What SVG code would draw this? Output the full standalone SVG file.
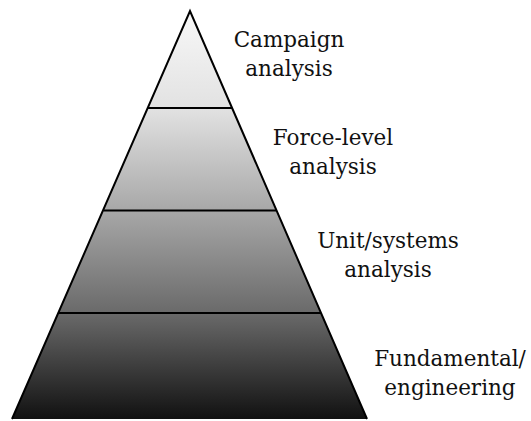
<svg xmlns="http://www.w3.org/2000/svg" width="531" height="421" viewBox="0 0 531 421">
<style>
.lbl{font-family:"DejaVu Serif",serif;font-size:21.5px;fill:#111;text-anchor:middle}
.edge{fill:none;stroke:#000;stroke-width:2}
</style>
<defs>
<linearGradient id="g" gradientUnits="userSpaceOnUse" x1="0" y1="11" x2="0" y2="419">
<stop offset="0" stop-color="#f8f8f8"/>
<stop offset="0.238" stop-color="#e2e2e2"/>
<stop offset="0.488" stop-color="#a8a8a8"/>
<stop offset="0.74" stop-color="#6a6a6a"/>
<stop offset="1" stop-color="#111111"/>
</linearGradient>
</defs>
<rect width="531" height="421" fill="#fff"/>
<g id="pyramid">
<polygon points="190,11 367,419 12,419" fill="url(#g)"/>
</g>
<g id="connectors">
<line class="edge" x1="147.5" y1="108" x2="232" y2="108"/>
<line class="edge" x1="103.5" y1="210.5" x2="276.5" y2="210.5"/>
<line class="edge" x1="58.5" y1="313" x2="321" y2="313"/>
<polyline class="edge" points="12,419 190,11 367,419"/>
</g>
<g id="campaign"><text class="lbl" x="289" y="47">Campaign</text><text class="lbl" x="289" y="76">analysis</text></g>
<g id="force"><text class="lbl" x="333" y="145">Force-level</text><text class="lbl" x="333" y="174">analysis</text></g>
<g id="unit"><text class="lbl" x="388" y="248">Unit/systems</text><text class="lbl" x="388" y="277">analysis</text></g>
<g id="fundamental"><text class="lbl" x="450" y="366">Fundamental/</text><text class="lbl" x="450" y="395">engineering</text></g>
</svg>
